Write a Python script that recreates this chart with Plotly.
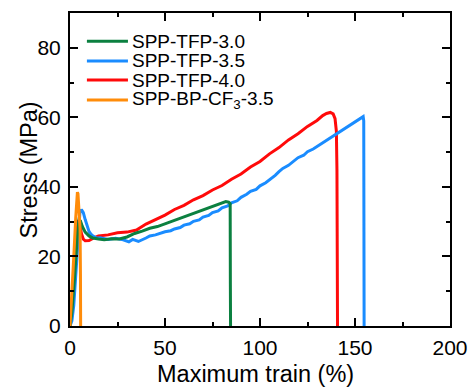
import plotly.graph_objects as go

# ---------------- data ----------------
names = ["SPP-TFP-3.0", "SPP-TFP-3.5", "SPP-TFP-4.0", "SPP-BP-CF<sub>3</sub>-3.5"]
colors = ["#0B8040", "#1A8CFF", "#FF0A0A", "#FF8C0A"]

strain_30 = [0, 1, 2, 3, 4, 4.7, 5.5, 6.5, 8, 10, 12, 15, 18, 22, 26, 30, 34, 38, 42, 46,
             50, 54, 58, 62, 66, 70, 74, 78, 80, 82, 83.5, 84.3, 84.4, 84.5]
stress_30 = [0, 4, 11, 20, 27, 30.5, 30.2, 28.6, 27.0, 25.9, 25.3, 25.0, 24.8, 25.1, 25.0, 25.6, 26.6, 27.3, 28.1, 28.6,
             29.4, 30.3, 31.0, 31.9, 32.6, 33.3, 34.2, 34.9, 35.5, 35.8, 35.6, 35.2, 12, 0]

strain_35 = [0, 1, 2, 3, 3.8, 4.5, 5.2, 6, 7, 8, 9, 10, 11, 12, 14, 16, 20, 24, 28, 31,
             33, 36, 40, 42, 45, 48, 50, 53, 55, 58, 60, 63, 65, 68, 70, 73, 75, 78, 80,
             83, 85, 88, 90, 93, 95, 98, 100, 103, 105, 108, 110, 112, 115, 118, 120, 123,
             125, 128, 130, 133, 135, 138, 140, 143, 145, 148, 150, 152, 153.5, 154.3, 154.6, 154.7, 154.8]
stress_35 = [0, 1.5, 6, 15, 23, 29, 32.5, 33.5, 32.6, 30.6, 28.6, 27.2, 26.4, 25.9, 25.3, 25.4, 24.9, 25.2, 24.8, 24.2,
             24.9, 24.3, 25.3, 25.9, 26.2, 26.8, 27.1, 27.4, 27.9, 28.3, 29.0, 29.4, 30.1, 30.5, 31.3, 31.8, 32.6, 33.1, 34.0,
             34.5, 35.4, 36.0, 37.0, 37.9, 38.7, 39.3, 40.3, 41.2, 42.0, 43.3, 44.4, 45.3, 46.2, 47.4, 48.4, 49.1,
             50.1, 50.9, 51.6, 52.7, 53.3, 54.4, 55.1, 56.2, 57.0, 57.9, 58.7, 59.3, 59.8, 60.2, 59.0, 30, 0]

strain_40 = [0, 1, 2, 3, 3.8, 4.5, 5.2, 6, 7, 8, 10, 12, 15, 20, 25, 30, 35, 40, 45, 50,
             55, 60, 65, 70, 75, 80, 85, 90, 95, 100, 105, 110, 115, 120, 125, 130, 133,
             135, 137, 138.5, 139.5, 140.2, 140.5, 140.7, 140.8]
stress_40 = [0, 5, 13, 22, 28, 30.5, 29.2, 26.6, 25.0, 24.5, 24.6, 25.2, 25.9, 26.2, 26.8, 27.0, 27.6, 29.3, 30.6, 31.9,
             33.5, 34.7, 36.3, 37.5, 39.1, 40.4, 42.2, 43.7, 45.7, 47.3, 49.5, 51.3, 53.5, 55.3, 57.4, 59.1, 60.5,
             61.1, 61.4, 61.0, 59.6, 56.0, 45, 20, 0]

strain_cf3 = [0, 1, 2, 3, 3.6, 3.9, 4.2, 4.6, 5.0, 5.3, 5.5, 5.6]
stress_cf3 = [0, 9, 20, 31, 37, 38.5, 38.0, 35, 31, 28, 15, 0]

x_ticks = [0, 50, 100, 150, 200]
y_ticks = [0, 20, 40, 60, 80]

FONT = "Liberation Sans, Arial"

# ---------------- figure ----------------
series = [
    (strain_40, stress_40, 2),
    (strain_35, stress_35, 1),
    (strain_30, stress_30, 0),
    (strain_cf3, stress_cf3, 3),
]

fig = go.Figure()
for xs, ys, i in series:
    fig.add_trace(go.Scatter(x=xs, y=ys, mode="lines", name=names[i],
                             line=dict(color=colors[i], width=3), showlegend=False))

# hand-made legend (compact rows like the reference)
leg_y = [81.9, 76.2, 70.7, 65.0]
for i, nm in enumerate(names):
    fig.add_shape(type="line", xref="x", yref="y", x0=8.9, x1=30.5, y0=leg_y[i], y1=leg_y[i],
                  line=dict(color=colors[i], width=3))
    fig.add_annotation(x=31.6, y=leg_y[i], xref="x", yref="y", text=nm, showarrow=False,
                       xanchor="left", yanchor="middle",
                       font=dict(family=FONT, size=19, color="black"))

# axis titles placed as in the reference
fig.add_annotation(x=-0.108, y=0.5, xref="paper", yref="paper", text="Stress (MPa)",
                   textangle=-90, showarrow=False, xanchor="center", yanchor="middle",
                   font=dict(family=FONT, size=23.5, color="black"))
fig.add_annotation(x=0.487, y=-0.152, xref="paper", yref="paper", text="Maximum train (%)",
                   showarrow=False, xanchor="center", yanchor="middle",
                   font=dict(family=FONT, size=23.5, color="black"))

axis_common = dict(showline=True, linewidth=2, linecolor="black", mirror="allticks",
                   ticks="inside", ticklen=8, tickwidth=2, tickcolor="black",
                   showgrid=False, zeroline=False, automargin=False,
                   tickfont=dict(family=FONT, size=21, color="black"))

fig.update_xaxes(range=[0, 200], tickvals=x_ticks,
                 minor=dict(ticks="inside", ticklen=4, tickwidth=2, tickcolor="black", dtick=25, tick0=0),
                 ticklabelstandoff=2, **axis_common)
fig.update_yaxes(range=[0, 90], tickvals=y_ticks,
                 minor=dict(ticks="inside", ticklen=4, tickwidth=2, tickcolor="black", dtick=10, tick0=0),
                 ticklabelstandoff=3, **axis_common)

fig.update_layout(width=470, height=387, margin=dict(l=70, r=20, t=13, b=61),
                  plot_bgcolor="white", paper_bgcolor="white", showlegend=False)

fig.write_html("out.html", config={"displayModeBar": False},
               post_script="document.body.style.margin='0';")
